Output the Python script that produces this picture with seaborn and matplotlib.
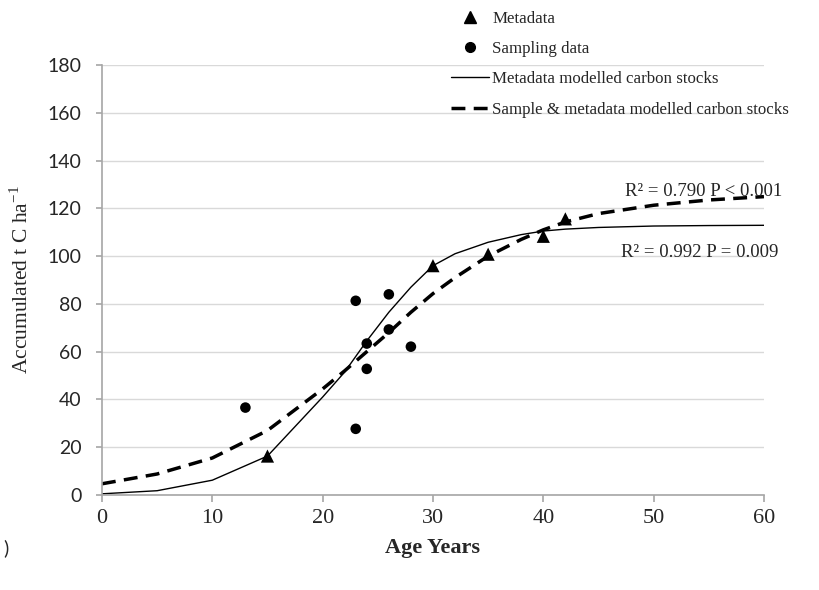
import numpy as np
import pandas as pd
import matplotlib
matplotlib.use("Agg")
import matplotlib.pyplot as plt
from matplotlib.lines import Line2D
import seaborn as sns

# observed values
meta_age = [15, 30, 35, 40, 42]
meta_carbon = [16.3, 96.0, 100.8, 108.3, 115.6]
sample_age = [13, 23, 23, 24, 24, 26, 26, 28]
sample_carbon = [36.6, 81.3, 27.7, 63.4, 52.8, 84.0, 69.3, 62.1]

# modelled curves
model_age = [0, 5, 10, 15, 20, 22, 24, 26, 28, 30, 32, 35, 38, 40, 42, 45, 50, 55, 60]
meta_model = [0.5, 1.8, 6.2, 16.3, 41.0, 51.5, 64.5, 76.5, 87.0, 96.0, 101.0, 105.8,
              109.0, 110.5, 111.3, 112.0, 112.6, 112.8, 112.9]
sample_model = [4.7, 8.8, 15.5, 27.0, 44.4, 52.0, 60.0, 68.0, 76.5, 84.3, 91.0, 100.0,
                107.0, 111.0, 114.3, 117.8, 121.3, 123.5, 124.9]

sns.set_style("white")
plt.rcParams['font.family'] = ['Liberation Serif', 'DejaVu Serif']
plt.rcParams['mathtext.fontset'] = 'custom'
plt.rcParams['mathtext.rm'] = 'Liberation Serif'

fig = plt.figure(figsize=(8.19, 5.90), dpi=100)
ax = fig.add_axes([0.1245, 0.161, 0.8083, 0.7288])

curves = pd.DataFrame({'age': model_age, 'meta': meta_model, 'sample': sample_model})
sns.lineplot(data=curves, x='age', y='meta', color='black', lw=1.0, ax=ax)
sns.lineplot(data=curves, x='age', y='sample', color='black', lw=2.5, ax=ax,
             linestyle=(0, (4, 2.4)))
sns.scatterplot(x=meta_age, y=meta_carbon, marker='^', color='black', s=90,
                edgecolor='none', ax=ax, zorder=5)
sns.scatterplot(x=sample_age, y=sample_carbon, marker='o', color='black', s=58,
                edgecolor='none', ax=ax, zorder=5)

ax.set_xlim(0, 60)
ax.set_ylim(0, 180)
ax.set_xticks(range(0, 61, 10))
ax.set_yticks(range(0, 181, 20))
ax.yaxis.grid(True, color='#d9d9d9', lw=1)
ax.set_axisbelow(True)
for s in ['top', 'right']:
    ax.spines[s].set_visible(False)
for s in ['left', 'bottom']:
    ax.spines[s].set_color('#a6a6a6')
    ax.spines[s].set_linewidth(1.2)
ax.tick_params(axis='x', length=5, width=1.2, color='#a6a6a6', labelsize=16, pad=5, direction='out')
ax.tick_params(axis='y', length=4.5, width=1.2, color='#a6a6a6', labelsize=14, pad=10, direction='out')
ax.tick_params(bottom=True, left=True)
for lab in ax.get_yticklabels():
    lab.set_fontfamily(['Lato', 'DejaVu Sans'])

ax.set_xlabel('Age Years', fontsize=16, fontweight='bold', va='center')
ax.xaxis.set_label_coords(0.5, -0.123)
ax.set_ylabel(r'Accumulated t C ha$^{\mathregular{-1}}$', fontsize=15.5, va='center')
ax.yaxis.set_label_coords(-0.122, 0.5)

ax.text(61.7, 127.0, 'R² = 0.790 P < 0.001', ha='right', va='center', fontsize=13.5)
ax.text(61.3, 101.5, 'R² = 0.992 P = 0.009', ha='right', va='center', fontsize=13.5)

handles = [
    Line2D([], [], marker='^', color='black', linestyle='none', markersize=9),
    Line2D([], [], marker='o', color='black', linestyle='none', markersize=7),
    Line2D([], [], color='black', lw=1.0),
    Line2D([], [], color='black', lw=2.5, linestyle=(0, (4, 2.4))),
]
labels = ['Metadata', 'Sampling data', 'Metadata modelled carbon stocks',
          'Sample & metadata modelled carbon stocks']
fig.legend(handles, labels, loc='upper left', bbox_to_anchor=(0.532, 1.008),
           frameon=False, fontsize=12.2, handlelength=2.25, handletextpad=0.2,
           labelspacing=0.85)

fig.text(0.004, 0.071, ')', fontsize=14, va='center', family=['Lato', 'DejaVu Sans'])

fig.savefig('out.png', dpi=100)
